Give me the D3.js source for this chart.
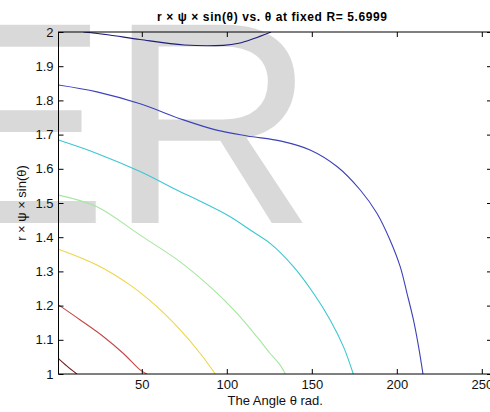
<!DOCTYPE html>
<html>
<head>
<meta charset="utf-8">
<script src="https://cdn.jsdelivr.net/npm/d3@7"></script>
<style>
  body { margin: 0; background: #fff; }
  svg { display: block; font-family: "Liberation Sans", Arial, sans-serif; }
</style>
</head>
<body>
<svg id="chart" width="490" height="412"></svg>
<script>
// contour levels, each one [theta, r*psi*sin(theta)]
const navyLine = [[15.7, 2.0], [30, 1.992], [49, 1.978], [75, 1.962], [98, 1.961], [107, 1.967], [116, 1.981], [126, 2.0]];
const blueLine = [[1, 1.845], [23.6, 1.825], [49, 1.79], [74.5, 1.743], [94, 1.713], [112, 1.696], [132, 1.681],
  [149, 1.655], [165, 1.606], [178.5, 1.538], [188.3, 1.470], [196, 1.392], [202, 1.314], [206, 1.236],
  [209.8, 1.158], [212.8, 1.080], [215.4, 1.0]];
const cyanLine = [[1, 1.684], [23.6, 1.645], [49, 1.592], [72.6, 1.533], [82.4, 1.51], [102, 1.46], [113.8, 1.421],
  [125.5, 1.382], [139.2, 1.314], [151, 1.236], [160.8, 1.158], [168.6, 1.08], [174.4, 1.0]];
const greenLine = [[1, 1.523], [23.6, 1.489], [49, 1.406], [72.6, 1.328], [92.2, 1.246], [105.9, 1.178],
  [117.7, 1.109], [125.5, 1.06], [131.4, 1.026], [134.4, 1.0]];
const yellowLine = [[1, 1.365], [23.6, 1.319], [43.2, 1.26], [58.9, 1.197], [72.6, 1.129], [84.4, 1.06], [93.2, 1.0]];
const redLine = [[1, 1.202], [13.8, 1.158], [27.5, 1.109], [39.2, 1.06], [49, 1.012], [53, 1.0]];
const brownLine = [[1, 1.045], [6, 1.023], [11.8, 1.0]];

const contours = [navyLine, blueLine, cyanLine, greenLine, yellowLine, redLine, brownLine];
const contourColors = ['#1c1c7c', '#3c42b8', '#3cc6d0', '#a6e6a0', '#eed54a', '#c44848', '#782020'];

const xTicks = [50, 100, 150, 200, 250];
const yTicks = [1, 1.1, 1.2, 1.3, 1.4, 1.5, 1.6, 1.7, 1.8, 1.9, 2];

const svg = d3.select('#chart');

const padLeft = 58.5, padTop = 32, plotW = 433.5, plotH = 342;

// watermark letters behind the axes
svg.append('text')
  .attr('x', -84).attr('y', 223)
  .attr('font-size', 288)
  .attr('fill', '#d9d9d9')
  .text('ER');

const x = d3.scaleLinear().domain([1, 256]).range([padLeft, padLeft + plotW]);
const y = d3.scaleLinear().domain([1, 2]).range([padTop + plotH, padTop]);

svg.append('clipPath').attr('id', 'plot')
  .append('rect')
  .attr('x', padLeft).attr('y', padTop).attr('width', plotW).attr('height', plotH);

const line = d3.line()
  .x(d => x(d[0]))
  .y(d => y(d[1]))
  .curve(d3.curveCatmullRom.alpha(0.5));

svg.append('g').attr('clip-path', 'url(#plot)')
  .selectAll('path')
  .data(contours)
  .enter().append('path')
  .attr('d', line)
  .attr('fill', 'none')
  .attr('stroke', (d, i) => contourColors[i])
  .attr('stroke-width', 1.1);

function style(g) {
  g.select('.domain').remove();
  g.selectAll('line').attr('stroke', '#000');
  g.selectAll('text').attr('font-size', 13).attr('fill', '#111')
    .attr('font-family', '"Liberation Sans", Arial, sans-serif');
}

svg.append('g')
  .attr('transform', `translate(0,${padTop + plotH})`)
  .call(d3.axisBottom(x).tickValues(xTicks).tickSizeInner(-5).tickSizeOuter(0).tickPadding(6))
  .call(style);

svg.append('g')
  .attr('transform', `translate(0,${padTop})`)
  .call(d3.axisTop(x).tickValues(xTicks).tickSizeInner(-5).tickSizeOuter(0).tickFormat(''))
  .call(style);

svg.append('g')
  .attr('transform', `translate(${padLeft},0)`)
  .call(d3.axisLeft(y).tickValues(yTicks).tickSizeInner(-5).tickSizeOuter(0).tickPadding(5).tickFormat(d3.format('')))
  .call(style);

svg.append('g')
  .attr('transform', `translate(${padLeft + plotW},0)`)
  .call(d3.axisRight(y).tickValues(yTicks).tickSizeInner(-5).tickSizeOuter(0).tickFormat(''))
  .call(style);

svg.append('rect')
  .attr('x', padLeft).attr('y', padTop).attr('width', plotW).attr('height', plotH)
  .attr('fill', 'none').attr('stroke', '#000').attr('stroke-width', 1);

svg.append('text')
  .attr('x', 272).attr('y', 21)
  .attr('text-anchor', 'middle')
  .attr('font-size', 12).attr('font-weight', 'bold')
  .attr('textLength', 230).attr('lengthAdjust', 'spacing')
  .text('r × ψ × sin(θ) vs. θ at fixed R= 5.6999');

svg.append('text')
  .attr('x', padLeft + plotW / 2).attr('y', 405)
  .attr('text-anchor', 'middle')
  .attr('font-size', 13).attr('fill', '#111')
  .text('The Angle θ rad.');

svg.append('text')
  .attr('transform', `translate(26,${padTop + plotH / 2}) rotate(-90)`)
  .attr('text-anchor', 'middle')
  .attr('font-size', 13).attr('fill', '#111')
  .text('r × ψ × sin(θ)');
</script>
</body>
</html>
